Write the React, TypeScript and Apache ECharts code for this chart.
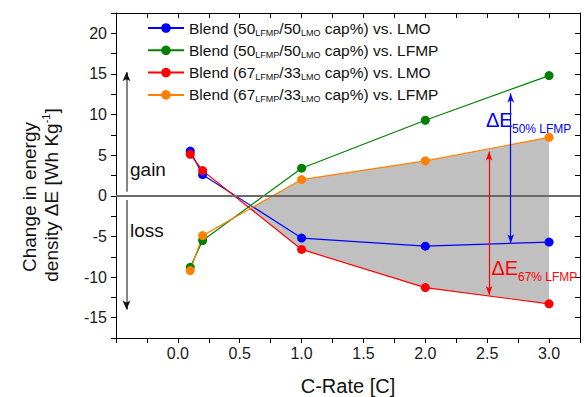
import React, { useEffect, useRef } from 'react';
import * as echarts from 'echarts';

const cRate = [0.1, 0.2, 1.0, 2.0, 3.0];
const blend50vsLMO = [5.5, 2.6, -5.2, -6.2, -5.7];
const blend50vsLFMP = [-8.8, -5.5, 3.4, 9.3, 14.8];
const blend67vsLMO = [5.1, 3.1, -6.6, -11.3, -13.3];
const blend67vsLFMP = [-9.2, -4.9, 2.0, 4.3, 7.2];

const seriesNames = [
  'Blend (50LFMP/50LMO cap%) vs. LMO',
  'Blend (50LFMP/50LMO cap%) vs. LFMP',
  'Blend (67LFMP/33LMO cap%) vs. LMO',
  'Blend (67LFMP/33LMO cap%) vs. LFMP',
];
const legendParts = [
  ['50', '50', 'LMO'],
  ['50', '50', 'LFMP'],
  ['67', '33', 'LMO'],
  ['67', '33', 'LFMP'],
];
const seriesColors = ['#0000ff', '#008000', '#ff0000', '#ff8000'];
const seriesValues = [blend50vsLMO, blend50vsLFMP, blend67vsLMO, blend67vsLFMP];

const FONT = '"Liberation Sans", Arial, sans-serif';

export default function App() {
  const ref = useRef<HTMLDivElement>(null);
  useEffect(() => {
    document.body.style.margin = '0';
    const chart = echarts.init(ref.current!, null, { renderer: 'svg' });

    const upper = blend67vsLFMP;
    const lower = blend67vsLMO;

    const lineSeries: any[] = seriesNames.map((name, i) => ({
      type: 'line',
      name,
      data: cRate.map((x, j) => [x, seriesValues[i][j]]),
      symbol: 'circle',
      symbolSize: 9,
      lineStyle: { width: 1.2, color: seriesColors[i] },
      itemStyle: { color: seriesColors[i] },
      z: 3,
    }));

    const arrow = (x: number, y0: number, y1: number, color: string, width: number, s0: string, s1: string, size: number[]) => [
      { coord: [x, y0], symbol: s0, symbolSize: size, lineStyle: { color, width, type: 'solid' } },
      { coord: [x, y1], symbol: s1, symbolSize: size },
    ];

    lineSeries[0].markLine = {
      silent: true,
      symbol: ['none', 'none'],
      label: { show: false },
      lineStyle: { type: 'solid' },
      data: [
        { yAxis: 0, symbol: 'none', lineStyle: { color: '#6a6a6a', width: 2, type: 'solid' } },
        arrow(-0.415, 0.5, 15.0, '#858585', 2, 'none', 'none', [6, 9]),
        arrow(-0.415, 14.3, 15.2, '#111', 1.5, 'none', 'arrow', [6, 9]),
        arrow(-0.415, -0.5, -13.8, '#858585', 2, 'none', 'none', [6, 9]),
        arrow(-0.415, -13.1, -14.0, '#111', 1.5, 'none', 'arrow', [6, 9]),
        arrow(2.69, 12.6, -5.85, '#0000ff', 1.2, 'arrow', 'arrow', [5, 9]),
        arrow(2.515, 5.45, -12.2, '#ff0000', 1.2, 'arrow', 'arrow', [5, 9]),
      ],
    };

    const areaSeries = {
      type: 'custom',
      name: 'area',
      z: 1,
      silent: true,
      data: [[cRate[cRate.length - 1], upper[upper.length - 1]]],
      encode: { x: 0, y: 1 },
      renderItem: (_params: any, api: any) => {
        const n = cRate.length;
        let k = 0;
        for (let i = 0; i < n - 1; i++) {
          const a = upper[i] - lower[i];
          const b = upper[i + 1] - lower[i + 1];
          if (a < 0 && b >= 0) { k = i; break; }
        }
        const d0 = upper[k] - lower[k];
        const d1 = upper[k + 1] - lower[k + 1];
        const t = -d0 / (d1 - d0);
        const xi = cRate[k] + t * (cRate[k + 1] - cRate[k]);
        const yi = upper[k] + t * (upper[k + 1] - upper[k]);
        const pts: number[][] = [api.coord([xi, yi])];
        for (let i = k + 1; i < n; i++) pts.push(api.coord([cRate[i], upper[i]]));
        for (let i = n - 1; i > k; i--) pts.push(api.coord([cRate[i], lower[i]]));
        return { type: 'polygon', shape: { points: pts }, style: { fill: '#c0c0c0', stroke: 'none' } };
      },
    };

    const axisCommon = {
      type: 'value',
      splitLine: { show: false },
      axisLine: { show: true, onZero: false, lineStyle: { color: '#000', width: 1 } },
    };

    const txt = (text: string, x: number, y: number, size: number, color: string) => ({
      type: 'text',
      x,
      y,
      z: 50,
      silent: true,
      style: {
        text,
        fontSize: size,
        fontFamily: FONT,
        fill: color,
        align: 'left',
        verticalAlign: 'middle',
        textAlign: 'left',
        textVerticalAlign: 'middle',
      },
    });

    chart.setOption({
      animation: false,
      grid: { left: 116, right: 5, top: 13, bottom: 59, containLabel: false },
      legend: {
        orient: 'vertical',
        left: 142,
        top: 15,
        itemWidth: 36,
        itemHeight: 12,
        itemGap: 5.3,
        data: seriesNames,
        formatter: (name: string) => {
          const i = seriesNames.indexOf(name);
          const p = legendParts[i];
          return `{m|Blend (${p[0]}}{s|LFMP}{m|/${p[1]}}{s|LMO}{m| cap%) vs. ${p[2]}}`;
        },
        textStyle: {
          fontFamily: FONT,
          rich: {
            m: { fontSize: 15.5, lineHeight: 18, fontFamily: FONT, color: '#111' },
            s: { fontSize: 9, lineHeight: 9, verticalAlign: 'bottom', fontFamily: FONT, color: '#111' },
          },
        },
      },
      xAxis: [
        {
          ...axisCommon,
          position: 'bottom',
          min: -0.5,
          max: 3.25,
          interval: 0.25,
          axisTick: { show: true, inside: false, length: 5, lineStyle: { color: '#000' } },
          axisLabel: {
            margin: 7,
            fontSize: 16,
            fontFamily: FONT,
            color: '#1a1a1a',
            showMinLabel: true,
            showMaxLabel: true,
            formatter: (v: number) => (v >= 0 && Math.abs(v * 2 - Math.round(v * 2)) < 1e-6 ? v.toFixed(1) : ''),
          },
        },
        {
          ...axisCommon,
          position: 'top',
          min: -0.5,
          max: 3.25,
          interval: 0.25,
          axisTick: { show: true, inside: true, length: 5, lineStyle: { color: '#000' } },
          axisLabel: { show: false },
        },
      ],
      yAxis: [
        {
          ...axisCommon,
          position: 'left',
          min: -17.5,
          max: 22.5,
          interval: 2.5,
          axisTick: { show: true, inside: false, length: 5, lineStyle: { color: '#000' } },
          axisLabel: {
            margin: 9,
            fontSize: 16,
            fontFamily: FONT,
            color: '#1a1a1a',
            formatter: (v: number) => (Math.abs(v / 5 - Math.round(v / 5)) < 1e-6 ? String(Math.round(v)) : ''),
          },
        },
        {
          ...axisCommon,
          position: 'right',
          min: -17.5,
          max: 22.5,
          interval: 2.5,
          axisTick: { show: true, inside: true, length: 5, lineStyle: { color: '#000' } },
          axisLabel: { show: false },
        },
      ],
      series: [areaSeries, ...lineSeries],
      graphic: [
        txt('gain', 130, 169.5, 19, '#111'),
        txt('loss', 130, 230, 19, '#111'),
        txt('ΔE', 486, 119.5, 20, '#0000ff'),
        txt('50% LFMP', 512, 129, 12, '#0000ff'),
        txt('ΔE', 491.5, 268, 20, '#ff0000'),
        txt('67% LFMP', 518, 277, 12, '#ff0000'),
        {
          type: 'text',
          x: 348,
          y: 385.5,
          z: 50,
          silent: true,
          style: {
            text: 'C-Rate [C]', fontSize: 20, fontFamily: FONT, fill: '#111',
            align: 'center', verticalAlign: 'middle', textAlign: 'center', textVerticalAlign: 'middle',
          },
        },
        {
          type: 'text',
          x: 29,
          y: 197,
          z: 50,
          rotation: Math.PI / 2,
          silent: true,
          style: {
            text: 'Change in energy', fontSize: 19, fontFamily: FONT, fill: '#111',
            align: 'center', verticalAlign: 'middle', textAlign: 'center', textVerticalAlign: 'middle',
          },
        },
        {
          type: 'text',
          x: 51,
          y: 195,
          z: 50,
          rotation: Math.PI / 2,
          silent: true,
          style: {
            text: '{m|density ΔE [Wh Kg}{s|-1}{m|]}',
            fontSize: 19, fontFamily: FONT, fill: '#111',
            align: 'center', verticalAlign: 'middle', textAlign: 'center', textVerticalAlign: 'middle',
            rich: {
              m: { fontSize: 19, lineHeight: 22, fontFamily: FONT, fill: '#111', color: '#111' },
              s: { fontSize: 11, lineHeight: 11, verticalAlign: 'top', fontFamily: FONT, fill: '#111', color: '#111' },
            },
          },
        },
      ],
    });
    return () => chart.dispose();
  }, []);
  return <div ref={ref} style={{ width: 585, height: 397 }} />;
}
